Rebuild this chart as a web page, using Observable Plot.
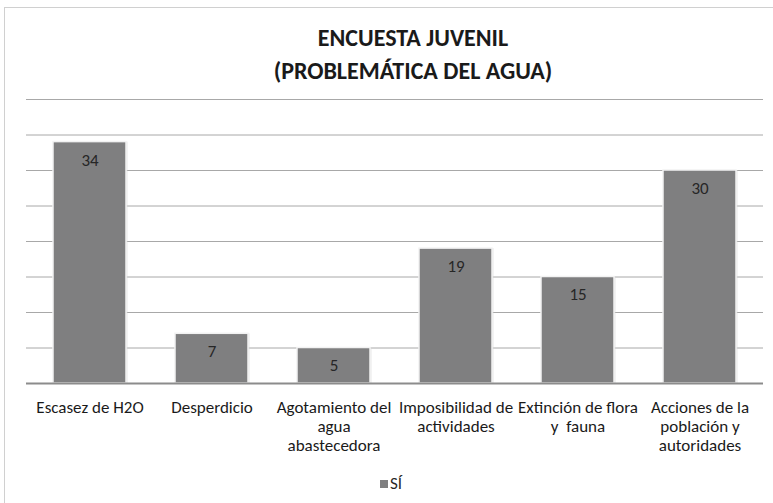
<!DOCTYPE html>
<html>
<head>
<meta charset="utf-8">
<script src="https://cdn.jsdelivr.net/npm/d3@7"></script>
<script src="https://cdn.jsdelivr.net/npm/@observablehq/plot@0.6"></script>
<style>
  html, body { margin: 0; padding: 0; background: #fff; }
  #wrap { position: relative; width: 773px; height: 503px; overflow: hidden;
          font-family: Carlito, Calibri, "Liberation Sans Narrow", "Open Sans", sans-serif; }
  #frame { position: absolute; left: 4px; top: 7px; width: 820px; height: 520px;
           border: 1px solid #d0d0d0; box-sizing: border-box; }
  #title { position: absolute; left: 0; width: 826px; top: 21px; text-align: center;
           font-weight: bold; font-size: 24px; line-height: 33px; color: #1a1a1a; }
  #chart { position: absolute; left: 0; top: 90px; }
  #legend { position: absolute; left: 0; width: 782px; top: 473px; text-align: center;
            font-size: 17px; color: #262626; }
  #legend .sw { display: inline-block; width: 8px; height: 8px; background: #7f7f80;
                margin-right: 2px; vertical-align: 1px; }
</style>
</head>
<body>
<div id="wrap">
  <div id="frame"></div>
  <div id="title">ENCUESTA JUVENIL<br>(PROBLEMÁTICA DEL AGUA)</div>
  <div id="chart"></div>
  <div id="legend"><span class="sw"></span>SÍ</div>
</div>
<script>
const categories = [
  "Escasez de H2O",
  "Desperdicio",
  "Agotamiento del agua abastecedora",
  "Imposibilidad de actividades",
  "Extinción de flora y  fauna",
  "Acciones de la población y autoridades"
];
const tickLabels = [
  "Escasez de H2O",
  "Desperdicio",
  "Agotamiento del\nagua\nabastecedora",
  "Imposibilidad de\nactividades",
  "Extinción de flora\ny  fauna",
  "Acciones de la\npoblación y\nautoridades"
];
const values = [34, 7, 5, 19, 15, 30];
const yTicks = [5, 10, 15, 20, 25, 30, 35, 40];
const seriesName = "SÍ";

const data = categories.map((c, i) => ({cat: c, value: values[i]}));
const labelOf = new Map(categories.map((c, i) => [c, tickLabels[i]]));
const font = 'Carlito, Calibri, "Liberation Sans Narrow", "Open Sans", sans-serif';

const plot = Plot.plot({
  width: 773,
  height: 370,
  marginLeft: 26,
  marginRight: 10,
  marginTop: 9,
  marginBottom: 77,
  style: {fontFamily: font, fontSize: "17px", color: "#262626", background: "transparent"},
  x: {domain: categories, paddingInner: 0.4, paddingOuter: 0.2, label: null},
  y: {domain: [0, 40], label: null},
  marks: [
    Plot.ruleY(yTicks, {stroke: "#a8a8a8", strokeWidth: 1}),
    Plot.barY(data, {x: "cat", y: "value", dx: 1.5, fill: "#d8d8d8", fillOpacity: 0.6}),
    Plot.barY(data, {x: "cat", y: "value", fill: "#7f7f80", stroke: "#f2f2f2", strokeWidth: 1.5}),
    Plot.ruleY([0], {stroke: "#8c8c8c", strokeWidth: 2}),
    Plot.text(data, {x: "cat", y: "value", text: d => String(d.value), dy: 18,
                     fill: "#262626", fontSize: 17}),
    Plot.axisX({tickSize: 0, tickPadding: 16, tickFormat: d => labelOf.get(d),
                lineHeight: 1.12, fontSize: 17, fill: "#1a1a1a", label: null}),
    Plot.axisY({ticks: [], label: null})
  ]
});
document.getElementById("chart").appendChild(plot);
</script>
</body>
</html>
